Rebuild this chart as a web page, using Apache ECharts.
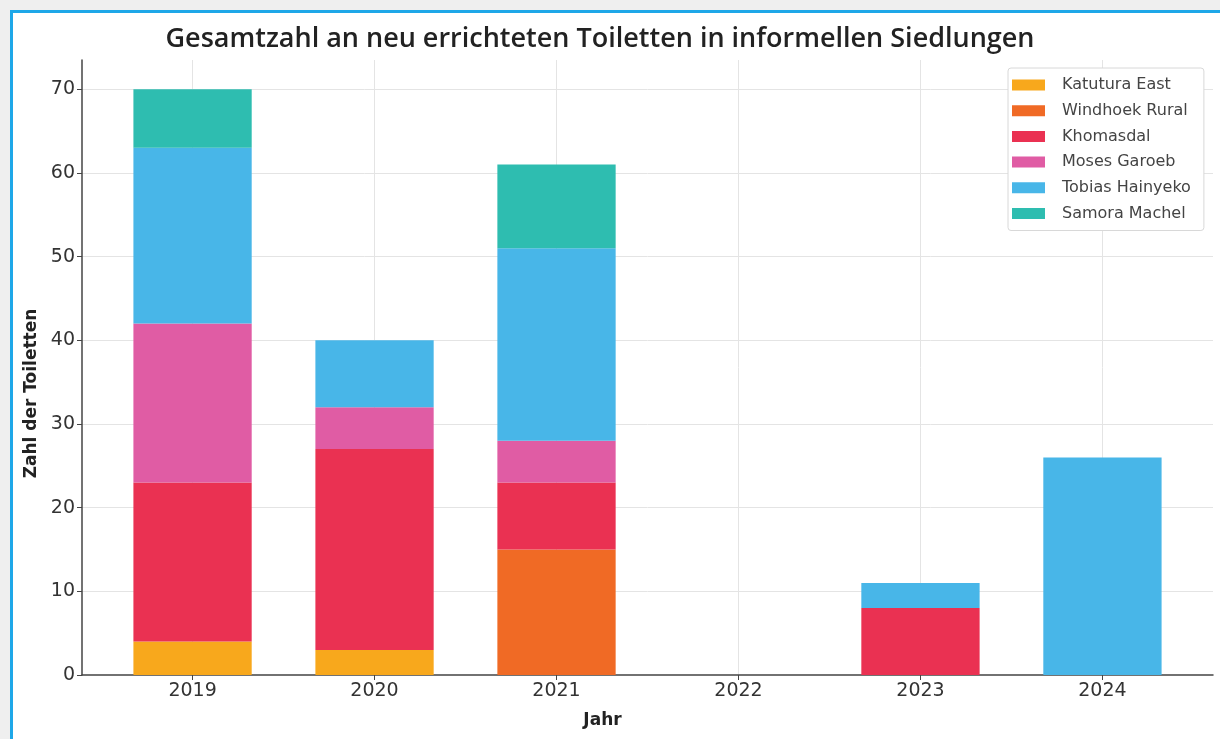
<!DOCTYPE html>
<html><head><meta charset="utf-8">
<script src="https://cdn.jsdelivr.net/npm/echarts@6/dist/echarts.min.js"></script>
<style>
html,body{margin:0;padding:0;background:#efefef;width:1220px;height:739px;overflow:hidden;}
#frame{position:absolute;left:10px;top:10px;width:1230px;height:760px;background:#fff;border-left:3px solid #1ea7e8;border-top:3px solid #1ea7e8;}
#c{position:absolute;left:0;top:0;width:1220px;height:739px;}
</style></head><body>
<div id="frame"></div>
<div id="c"></div>
<script>
const categories = ['2019','2020','2021','2022','2023','2024'];
const seriesNames = ['Katutura East','Windhoek Rural','Khomasdal','Moses Garoeb','Tobias Hainyeko','Samora Machel'];
const katuturaEast   = [4, 3, 0, 0, 0, 0];
const windhoekRural  = [0, 0, 15, 0, 0, 0];
const khomasdal      = [19, 24, 8, 0, 8, 0];
const mosesGaroeb    = [19, 5, 5, 0, 0, 0];
const tobiasHainyeko = [21, 8, 23, 0, 3, 26];
const samoraMachel   = [7, 0, 10, 0, 0, 0];
const yTicks = [0,10,20,30,40,50,60,70];
const colors = ['#f8a81c','#f06a25','#ea3152','#e05ca4','#48b6e8','#2ebdb0'];
const values = [katuturaEast, windhoekRural, khomasdal, mosesGaroeb, tobiasHainyeko, samoraMachel];

const chart = echarts.init(document.getElementById('c'), null, {renderer:'canvas'});
const tickFont = {fontFamily:'DejaVu Sans', fontSize:19, color:'#333'};
const nameFont = {fontFamily:'DejaVu Sans', fontWeight:'bold', fontSize:17, color:'#222'};
const gridL = 82, gridR = 7, plotW = 1220 - gridL - gridR;
const xMin = -0.6075, xMax = 5.6075, unit = plotW / (xMax - xMin);
chart.setOption({
  backgroundColor:'transparent',
  animation:false,
  title:{text:'Gesamtzahl an neu errichteten Toiletten in informellen Siedlungen', left:595, top:21, textAlign:'center',
    textStyle:{fontFamily:'Open Sans', fontWeight:600, fontSize:27, color:'#222'}},
  legend:{
    orient:'vertical', left:1008, top:68, itemWidth:33, itemHeight:11, itemGap:9.7,
    padding:[9,13,9,4], borderColor:'#d8d8d8', borderWidth:1, borderRadius:3, backgroundColor:'#fff',
    textStyle:{fontFamily:'DejaVu Sans', fontSize:16, lineHeight:16, color:'#444', padding:[0,0,0,12]},
    data: seriesNames.map(n=>({name:n, icon:'rect'}))
  },
  grid:[
    {left:gridL, right:gridR, top:60, bottom:64, containLabel:false},
    {left:gridL + (0 - xMin - 0.5) * unit, right:gridR + (xMax - 5 - 0.5) * unit, top:60, bottom:64, containLabel:false}
  ],
  xAxis:[{
    gridIndex:0, type:'value', min:xMin, max:xMax,
    name:'Jahr', nameLocation:'middle', nameGap:37,
    nameTextStyle:{...nameFont, padding:[0,90,0,0]},
    axisLine:{show:true, onZero:false, lineStyle:{color:'#444', width:1.5}},
    axisTick:{show:true, length:5, inside:false, lineStyle:{color:'#444'}},
    axisLabel:{...tickFont, margin:7, showMinLabel:false, showMaxLabel:false,
      formatter:v=> (Number.isInteger(v) && categories[v]!==undefined) ? categories[v] : ''},
    splitLine:{show:true, showMinLine:false, showMaxLine:false, lineStyle:{color:'#e4e4e4', width:1}}
  },{
    gridIndex:1, type:'category', data:categories, show:false
  }],
  yAxis:[{
    gridIndex:0, type:'value', min:0, max:73.5,
    name:'Zahl der Toiletten', nameLocation:'middle', nameGap:40,
    nameTextStyle:{...nameFont, padding:[0,52,0,0]},
    axisLine:{show:true, onZero:false, lineStyle:{color:'#444', width:1.5}},
    axisTick:{show:true, length:5, lineStyle:{color:'#444'}},
    axisLabel:{...tickFont, margin:7, showMaxLabel:false,
      formatter:v=> yTicks.includes(v) ? String(v) : ''},
    splitLine:{show:true, showMinLine:false, showMaxLine:false, lineStyle:{color:'#e4e4e4', width:1}}
  },{
    gridIndex:1, type:'value', min:0, max:73.5, show:false
  }],
  series: seriesNames.map((n,i)=>({
    name:n, type:'bar', stack:'total', barWidth:'65%', xAxisIndex:1, yAxisIndex:1,
    itemStyle:{color:colors[i]},
    data: values[i]
  }))
});
</script>
</body></html>
